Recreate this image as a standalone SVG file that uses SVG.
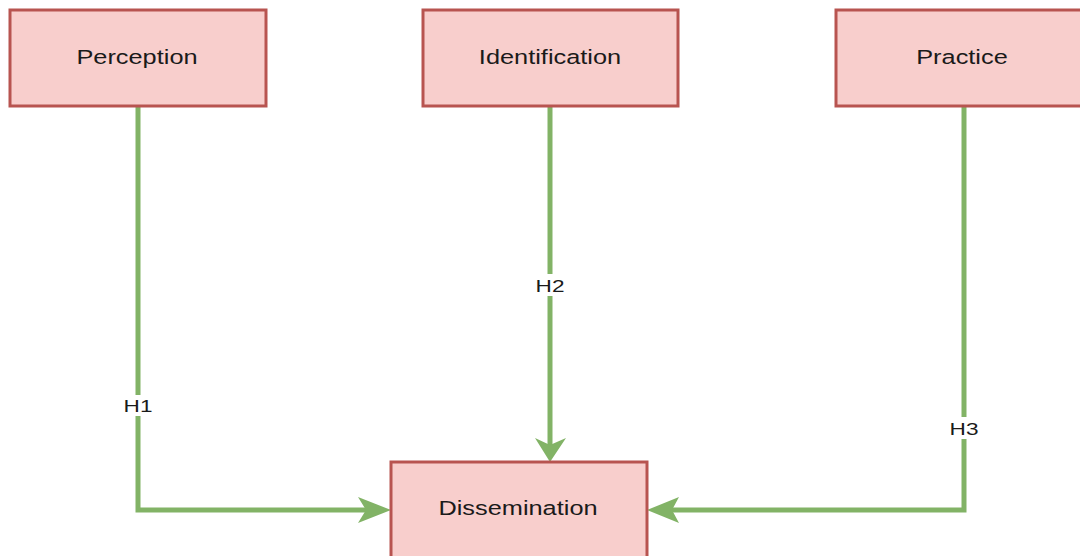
<svg xmlns="http://www.w3.org/2000/svg" width="1080" height="556" viewBox="0 0 1080 556">
  <style>
    .node { fill: #f8cecc; stroke: #b85450; stroke-width: 3; }
    .label { font-family: "Liberation Sans", Arial, sans-serif; font-size: 19.5px; fill: #1a1a1a; text-anchor: middle; dominant-baseline: central; }
    .elabel { font-family: "Liberation Sans", Arial, sans-serif; font-size: 17px; fill: #1a1a1a; text-anchor: middle; dominant-baseline: central; }
    .edge { fill: none; stroke: #82b366; stroke-width: 5; }
    .head { fill: #82b366; stroke: none; }
    .lbg { fill: #ffffff; }
  </style>
  <rect width="1080" height="556" fill="#ffffff"/>
  <g id="connectors">
    <g id="edge-h1">
      <path class="edge" d="M138,107 V510 H366"/>
      <path class="head" d="M391,510 L358,497 L366,510 L358,523 Z"/>
      <rect class="lbg" x="122" y="395" width="32" height="21"/>
      <text class="elabel" transform="translate(138,406) scale(1.33,1)">H1</text>
    </g>
    <g id="edge-h2">
      <path class="edge" d="M550,107 V445"/>
      <path class="head" d="M550,462 L535,438 L550,445 L566,438 Z"/>
      <rect class="lbg" x="534" y="274" width="32" height="22"/>
      <text class="elabel" transform="translate(550,286) scale(1.33,1)">H2</text>
    </g>
    <g id="edge-h3">
      <path class="edge" d="M964,107 V510 H672"/>
      <path class="head" d="M647,510 L679,497 L672,510 L679,523 Z"/>
      <rect class="lbg" x="948" y="417" width="32" height="22"/>
      <text class="elabel" transform="translate(964,429) scale(1.33,1)">H3</text>
    </g>
  </g>
  <g id="node-perception">
    <rect class="node" x="10" y="10" width="256" height="96"/>
    <text class="label" transform="translate(137,58) scale(1.3,1)">Perception</text>
  </g>
  <g id="node-identification">
    <rect class="node" x="423" y="10" width="255" height="96"/>
    <text class="label" transform="translate(550,58) scale(1.3,1)">Identification</text>
  </g>
  <g id="node-practice">
    <rect class="node" x="836" y="10" width="256" height="96"/>
    <text class="label" transform="translate(962,58) scale(1.3,1)">Practice</text>
  </g>
  <g id="node-dissemination">
    <rect class="node" x="391" y="462" width="256" height="96"/>
    <text class="label" transform="translate(518,509) scale(1.3,1)">Dissemination</text>
  </g>
</svg>
